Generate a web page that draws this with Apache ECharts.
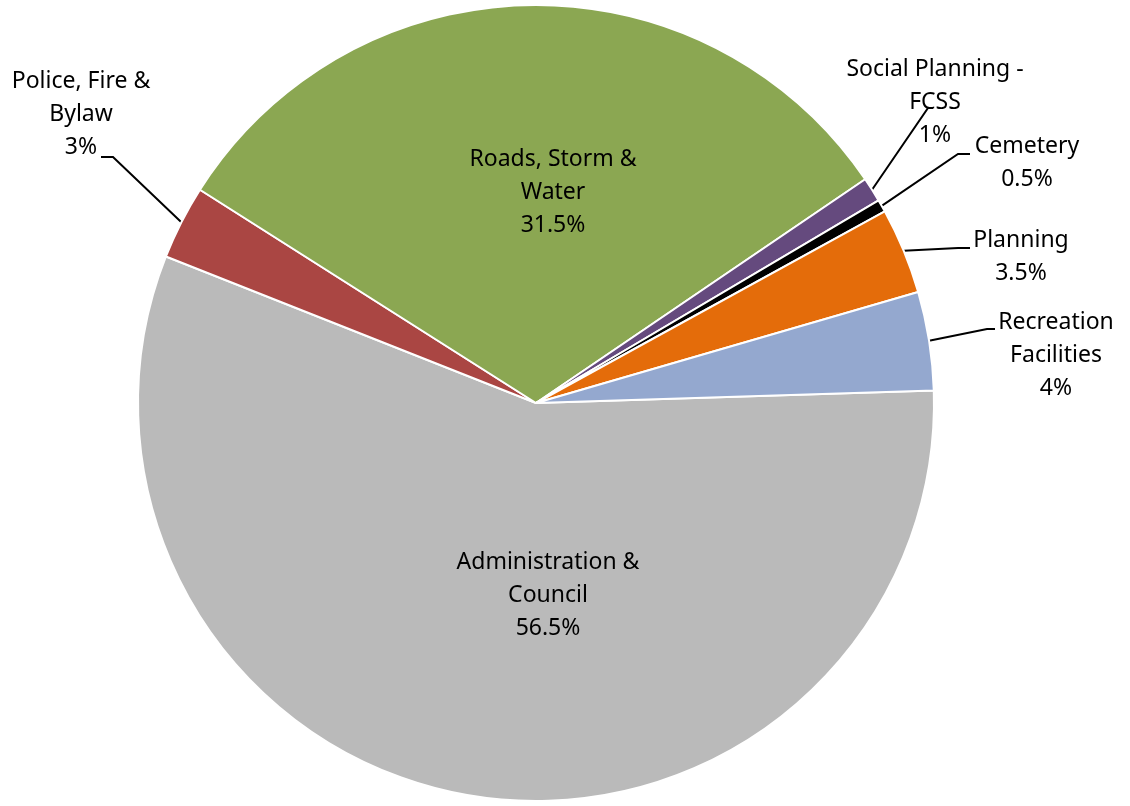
<!DOCTYPE html>
<html>
<head>
<meta charset="utf-8">
<script src="https://cdn.jsdelivr.net/npm/echarts@6/dist/echarts.min.js"></script>
<style>
html, body { margin: 0; padding: 0; background: #fff; }
#container { width: 1130px; height: 806px; }
</style>
</head>
<body>
<div id="container"></div>
<script>
// budget share by department (%)
var names = ['Administration &\nCouncil', 'Police, Fire &\nBylaw', 'Roads, Storm &\nWater', 'Social Planning -\nFCSS', 'Cemetery', 'Planning', 'Recreation\nFacilities'];
var values = [56.5, 3, 31.5, 1, 0.5, 3.5, 4];
var colors = ['#BABABA', '#AA4643', '#8BA752', '#654A7E', '#000000', '#E46C0A', '#94A8CF'];
var insideLabels = [0, 2];

// label placement (centre of text block) and leader line ends relative to it
var labelPos = { 0: [548, 595], 1: [81, 114], 2: [553, 192], 3: [935, 102], 4: [1027, 163], 5: [1021, 257], 6: [1056, 355] };
var lineEnds = {
    1: [[32, 43], [20, 43]],
    3: [[-7, 6], [-2, 6]],
    4: [[-69, -9], [-57, -9]],
    5: [[-63, -9], [-51, -9]],
    6: [[-69, -26], [-61, -26]]
};

var chartDom = document.getElementById('container');
var myChart = echarts.init(chartDom);

var pieData = [];
for (var i = 0; i < names.length; i++) {
    var inside = insideLabels.indexOf(i) >= 0;
    pieData.push({
        name: names[i],
        value: values[i],
        itemStyle: { color: colors[i] },
        label: { position: inside ? 'inside' : 'outside' },
        labelLine: { show: !inside }
    });
}

var option = {
    backgroundColor: '#fff',
    animation: false,
    series: [
        {
            type: 'pie',
            center: [536, 403],
            radius: [0, 398],
            startAngle: 1.8,
            clockwise: true,
            avoidLabelOverlap: false,
            itemStyle: {
                borderColor: '#fff',
                borderWidth: 2
            },
            label: {
                show: true,
                formatter: '{b}\n{c}%',
                fontFamily: 'Noto Sans',
                fontSize: 23,
                lineHeight: 33,
                color: '#000',
                align: 'center'
            },
            labelLine: {
                show: true,
                lineStyle: { color: '#000', width: 2 }
            },
            labelLayout: function (params) {
                var p = labelPos[params.dataIndex];
                var res = { x: p[0], y: p[1], align: 'center', verticalAlign: 'middle' };
                var ends = lineEnds[params.dataIndex];
                if (ends && params.labelLinePoints) {
                    var start = params.labelLinePoints[0];
                    res.labelLinePoints = [
                        start,
                        [p[0] + ends[0][0], p[1] + ends[0][1]],
                        [p[0] + ends[1][0], p[1] + ends[1][1]]
                    ];
                }
                return res;
            },
            data: pieData
        }
    ]
};

myChart.setOption(option);
</script>
</body>
</html>
